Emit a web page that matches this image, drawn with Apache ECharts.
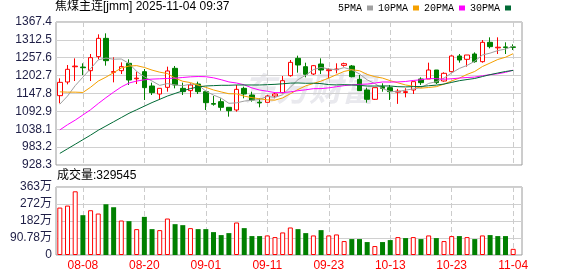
<!DOCTYPE html>
<html><head><meta charset="utf-8">
<script src="https://cdn.jsdelivr.net/npm/echarts@6/dist/echarts.min.js"></script>
<style>html,body{margin:0;padding:0;background:#fff}#c{width:578px;height:276px}</style>
</head><body><div id="c"></div>
<script>
const dates = ["08-05","08-06","08-07","08-08","08-11","08-12","08-13","08-14","08-15","08-18","08-19","08-20","08-21","08-22","08-25","08-26","08-27","08-28","08-29","09-01","09-02","09-03","09-04","09-05","09-08","09-09","09-10","09-11","09-12","09-15","09-16","09-17","09-18","09-19","09-22","09-23","09-24","09-25","09-26","09-29","09-30","10-09","10-10","10-13","10-14","10-15","10-16","10-17","10-20","10-21","10-22","10-23","10-24","10-27","10-28","10-29","10-30","10-31","11-03","11-04"];
const opens  = [1141.2,1183.2,1230.0,1229.0,1217.9,1261.0,1317.2,1213.0,1217.9,1240.5,1193.0,1214.9,1170.9,1146.3,1166.8,1225.1,1163.7,1156.6,1177.0,1153.5,1117.0,1122.8,1105.4,1097.2,1163.7,1143.2,1121.0,1120.7,1140.2,1150.4,1202.6,1255.8,1230.2,1207.7,1238.4,1218.0,1221.0,1234.3,1232.3,1191.4,1158.6,1130.0,1168.8,1165.8,1152.0,1151.0,1158.6,1192.4,1192.4,1220.0,1186.2,1214.9,1263.0,1252.8,1269.1,1245.6,1305.0,1288.0,1291.0,1291.0];
const closes = [1182.1,1222.1,1232.0,1227.0,1257.9,1317.2,1248.7,1215.0,1230.2,1189.3,1195.0,1165.8,1150.4,1163.7,1217.0,1174.0,1153.5,1174.0,1153.5,1119.7,1115.0,1105.4,1095.1,1160.6,1146.3,1127.9,1119.0,1140.2,1146.3,1187.2,1243.5,1235.4,1206.7,1233.3,1220.0,1221.0,1223.0,1239.4,1199.5,1156.6,1130.0,1165.8,1163.7,1153.5,1155.0,1153.5,1184.2,1181.1,1220.0,1181.1,1209.8,1263.0,1250.7,1266.1,1245.6,1305.0,1291.7,1290.0,1289.0,1289.5];
const highs  = [1194.4,1235.4,1255.8,1240.5,1269.1,1329.5,1332.6,1258.9,1243.5,1252.8,1214.9,1223.1,1181.1,1163.7,1230.2,1232.3,1181.1,1179.1,1184.2,1156.6,1140.2,1133.0,1105.4,1174.0,1168.8,1153.5,1133.0,1143.2,1150.4,1201.6,1250.7,1264.0,1242.5,1235.4,1255.8,1225.1,1240.5,1242.5,1235.4,1204.7,1165.8,1165.8,1179.1,1174.0,1162.0,1164.0,1184.2,1197.5,1242.5,1220.0,1212.9,1265.0,1269.1,1266.1,1274.2,1312.1,1320.3,1320.3,1305.0,1298.8];
const lows   = [1117.7,1176.0,1186.2,1204.7,1186.2,1252.8,1233.3,1182.1,1207.7,1174.0,1177.0,1127.9,1143.2,1127.9,1153.5,1163.7,1143.2,1136.1,1146.3,1097.2,1110.5,1095.1,1076.7,1092.1,1133.0,1122.8,1105.4,1120.7,1133.0,1148.4,1199.5,1211.8,1197.5,1204.7,1207.7,1194.4,1209.8,1230.2,1197.5,1155.5,1119.7,1127.9,1153.5,1127.9,1116.0,1136.0,1146.3,1174.0,1192.4,1177.0,1184.2,1212.9,1242.5,1230.2,1242.5,1242.5,1286.5,1269.1,1269.1,1281.4];
const volumes = [2533000,2639000,3401000,2126000,2391000,2214000,2710000,2551000,1842000,1807000,1382000,2037000,1382000,1328000,1948000,1647000,1594000,1435000,1382000,1382000,1222000,1063000,1169000,1736000,1435000,1010000,1010000,1045000,957000,1205000,1470000,1382000,1169000,1045000,1328000,1045000,1098000,744000,850000,850000,691000,478000,691000,797000,957000,903000,957000,850000,1045000,903000,744000,1010000,1010000,957000,850000,1045000,1063000,1010000,1010000,329545];
const ma5  = [1115,1140,1172,1198,1224.2,1251.2,1256.6,1253.2,1253.8,1240.1,1215.6,1199.1,1186.1,1172.8,1178.4,1174.2,1171.7,1176.4,1174.4,1154.9,1143.1,1133.5,1117.7,1119.2,1124.5,1127.1,1129.8,1138.8,1135.9,1144.1,1167.2,1190.5,1203.8,1221.2,1227.8,1223.3,1220.8,1227.3,1220.6,1207.9,1189.7,1178.3,1163.1,1153.9,1153.6,1158.3,1162.0,1165.5,1178.8,1184.0,1195.2,1211.0,1224.9,1234.1,1247.0,1266.1,1271.8,1279.7,1284.3,1293.0];
const ma10 = [1153,1152,1152,1151,1167,1186,1198,1212,1226,1232.2,1233.4,1227.8,1219.7,1213.3,1209.2,1194.9,1185.4,1181.3,1173.6,1166.7,1158.7,1152.6,1147.1,1146.8,1139.7,1135.1,1131.6,1128.3,1127.5,1134.3,1147.1,1160.1,1171.3,1178.6,1185.9,1195.2,1205.6,1215.6,1220.9,1217.8,1206.5,1199.5,1195.2,1187.2,1180.7,1174.0,1170.1,1164.3,1166.3,1168.8,1176.7,1186.5,1195.2,1206.4,1215.5,1230.7,1241.4,1252.3,1259.2,1270.1];
const ma20 = [1036,1052,1066,1082,1098,1117,1135,1152,1168,1180,1186,1190,1192,1193,1194,1195,1197,1199,1200,1199.4,1196.0,1190.2,1183.4,1180.0,1174.5,1165.0,1158.5,1154.8,1150.6,1150.5,1152.9,1156.4,1159.2,1162.7,1162.9,1165.2,1168.7,1172.0,1174.3,1176.1,1176.9,1179.9,1183.3,1183.0,1183.4,1184.7,1187.9,1190.0,1193.7,1193.4,1191.7,1193.1,1195.3,1196.9,1198.2,1202.4,1205.8,1208.4,1212.8,1219.5];
const ma30 = [964,978,992,1006,1020,1035,1048,1061,1074,1087,1098,1109,1120,1130,1140,1148,1156,1163,1168,1171,1172,1173,1173,1174,1174,1174,1174,1175,1176,1177.7,1179.7,1180.2,1179.3,1179.5,1178.3,1175.1,1174.2,1175.0,1174.0,1172.9,1170.7,1170.7,1171.2,1170.8,1168.8,1168.1,1169.1,1169.3,1171.6,1173.6,1176.8,1182.0,1187.2,1190.7,1194.0,1199.9,1205.7,1210.7,1215.4,1218.8];
const priceTicks = ["928.3","983.2","1038.1","1092.9","1147.8","1202.7","1257.6","1312.5","1367.4"];
const volTicks = ["0","90.78万","182万","272万","363万"];
const maNames = ["5PMA","10PMA","20PMA","30PMA"];
const titleText = "焦煤主连[jmm] 2025-11-04 09:37";
const volText = "成交量:329545";

const PMIN = 928.3, PMAX = 1367.4, PINT = (PMAX - PMIN) / 8;
const VMAX = 3631200, VINT = VMAX / 4;
const RED = '#ff0000', GREEN = '#008000';
const FONT = '"Liberation Sans", "Noto Sans CJK SC", sans-serif';
const showIdx = (i) => (i - 3) % 8 === 0;

const candleData = dates.map((d, i) => [opens[i], closes[i], lows[i], highs[i]]);
const volData = volumes.map((v, i) => {
  const up = i === 0 || closes[i] >= closes[i - 1];
  return { value: v, itemStyle: up ? { color: '#ffffff', borderColor: RED, borderWidth: 1 } : { color: GREEN, borderColor: GREEN, borderWidth: 0 } };
});

const vSplit = { show: true, interval: showIdx, alignWithLabel: true, lineStyle: { color: '#cccccc', type: [5, 3], width: 1 } };
const hSplit = { show: true, lineStyle: { color: '#d0d0d0', width: 1 } };
const frame = { show: true, borderColor: '#9a9a9a', borderWidth: 1, backgroundColor: 'transparent', outerBoundsMode: 'none' };

const chart = echarts.init(document.getElementById('c'), null, { renderer: 'canvas' });
const maColors = ['#a0a0a0', '#f5a000', '#ff00ff', '#006a35'];
const maData = [ma5, ma10, ma20, ma30];

chart.setOption({
  animation: false,
  backgroundColor: '#ffffff',
  title: [
    { text: titleText, left: 55, top: 1, padding: 0, textStyle: { fontSize: 12, fontWeight: 'normal', color: '#000', fontFamily: FONT } },
    { text: volText, left: 57, top: 170, padding: 0, textStyle: { fontSize: 12, fontWeight: 'normal', color: '#000', fontFamily: FONT } }
  ],
  legend: {
    data: maNames, top: 3, right: 67, padding: 0, itemWidth: 6, itemHeight: 5, itemGap: 5, align: 'right', icon: 'rect',
    textStyle: { fontFamily: '"Liberation Mono", monospace', fontSize: 10, color: '#000' }
  },
  graphic: [{
    type: 'text', left: 243, top: 72, z: -1, silent: true,
    style: { text: '东方财富', fontSize: 33, fontWeight: 'bold', fontStyle: 'italic', fontFamily: '"Noto Sans CJK SC"', fill: '#e9e9ee' }
  }],
  grid: [
    Object.assign({ left: 56, top: 22, width: 466, height: 143 }, frame),
    { left: 56, top: 22, width: 461, height: 143, show: false, outerBoundsMode: 'none' },
    Object.assign({ left: 56, top: 187, width: 466, height: 68 }, frame),
    { left: 56, top: 187, width: 461, height: 68, show: false, outerBoundsMode: 'none' }
  ],
  xAxis: [
    { gridIndex: 0, type: 'value', min: 0, max: 1, show: false },
    { gridIndex: 1, type: 'category', data: dates, boundaryGap: true, axisLine: { show: false }, axisTick: { show: false }, axisLabel: { show: false }, splitLine: vSplit },
    { gridIndex: 2, type: 'value', min: 0, max: 1, show: false },
    { gridIndex: 3, type: 'category', data: dates, boundaryGap: true, axisLine: { show: false }, axisTick: { show: false, alignWithLabel: true },
      axisLabel: { show: true, interval: showIdx, color: RED, fontSize: 12, fontFamily: FONT, margin: 5 }, splitLine: vSplit }
  ],
  yAxis: [
    { gridIndex: 0, type: 'value', min: PMIN, max: PMAX, interval: PINT, axisLine: { show: false }, axisTick: { show: false },
      axisLabel: { margin: 4, fontSize: 12, fontFamily: FONT, color: '#1e1e46', formatter: (v) => priceTicks[Math.round((v - PMIN) / PINT)] }, splitLine: hSplit },
    { gridIndex: 1, type: 'value', min: PMIN, max: PMAX, show: false, splitLine: { show: false } },
    { gridIndex: 2, type: 'value', min: 0, max: VMAX, interval: VINT, axisLine: { show: false }, axisTick: { show: false },
      axisLabel: { margin: 4, fontSize: 12, fontFamily: FONT, color: '#1e1e46', formatter: (v) => volTicks[Math.round(v / VINT)] }, splitLine: hSplit },
    { gridIndex: 3, type: 'value', min: 0, max: VMAX, show: false, splitLine: { show: false } }
  ],
  series: [
    { type: 'candlestick', name: 'K', xAxisIndex: 1, yAxisIndex: 1, data: candleData, barWidth: 5,
      itemStyle: { color: '#ffffff', color0: GREEN, borderColor: RED, borderColor0: GREEN, borderWidth: 1 } },
    ...maNames.map((n, k) => ({
      type: 'line', name: n, xAxisIndex: 1, yAxisIndex: 1, data: maData[k], symbol: 'none', smooth: false,
      color: maColors[k], lineStyle: { color: maColors[k], width: 1 }, z: 3
    })),
    { type: 'bar', name: 'VOL', xAxisIndex: 3, yAxisIndex: 3, data: volData, barWidth: 5 }
  ]
});
</script>
</body></html>
